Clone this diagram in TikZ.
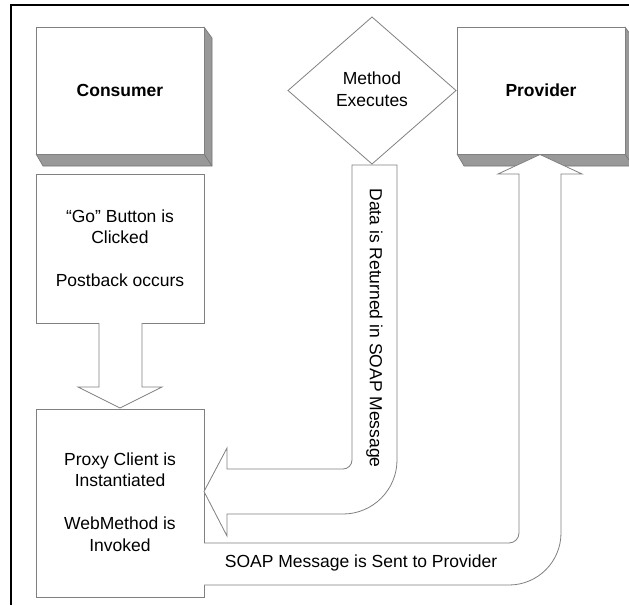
\documentclass[tikz,border=0pt]{standalone}
\usepackage{fontspec}
\setmainfont{Liberation Sans}
\begin{document}
\begin{tikzpicture}[x=1pt,y=-1pt,
  edge/.style={draw=black!50,line width=0.8pt},
  shade3d/.style={fill=black!40,draw=black!55,line width=0.6pt,line join=round},
  blockarrow/.style={fill=white,draw=black!50,line width=0.8pt,line join=miter},
  txt/.style={font=\fontsize{17.5}{21.5}\selectfont,align=center,inner sep=0pt},
  btxt/.style={font=\fontsize{17.5}{21.5}\selectfont\bfseries,align=center,inner sep=0pt}]
\useasboundingbox (0,0) rectangle (629,605);
\fill[white] (0,0) rectangle (629,605);
% frame
\draw[line width=2.6pt] (11,605) -- (11,5) -- (629,5);

% Consumer 3D box
\fill[shade3d] (204,27) -- (212,38) -- (212,166) -- (43,166) -- (36,154) -- (204,154) -- cycle;
\draw[shade3d,fill=none] (204,154) -- (212,166);
\draw[edge,fill=white] (36,27) rectangle (204,154);
\node[btxt] (consumer) at (120,90) {Consumer};

% Provider 3D box
\fill[shade3d] (625,27) -- (633,38) -- (633,166) -- (464,166) -- (457,154) -- (625,154) -- cycle;
\draw[shade3d,fill=none] (625,154) -- (633,166);
\draw[edge,fill=white] (457,27) rectangle (625,154);
\node[btxt] (provider) at (541,90) {Provider};

% Diamond
\draw[edge,fill=white] (372,17) -- (456,90.5) -- (372,164) -- (288,90.5) -- cycle;
\node[txt] (method) at (372,89) {Method\\Executes};

% Go box
\draw[edge,fill=white] (36,174) rectangle (204,323);
\node[txt] (go) at (120,248) {“Go” Button is\\Clicked\\[21.5pt]Postback occurs};

% Proxy box
\draw[edge,fill=white] (36,409) rectangle (204,597);
\node[txt] (proxy) at (120,502) {Proxy Client is\\Instantiated\\[21.5pt]WebMethod is\\Invoked};

% Down arrow Go -> Proxy
\draw[blockarrow] (99,323) -- (99,387) -- (78,387) -- (120,408) -- (162,387) -- (142,387) -- (142,323);

% Data returned arrow
\draw[blockarrow] (352,165) -- (352,460) arc[start angle=0,end angle=90,radius=9]
  -- (227,469) -- (227,448) -- (204,491.5) -- (227,536) -- (227,514)
  -- (343,514) arc[start angle=90,end angle=0,radius=54] -- (397,165) -- cycle;
\node[txt,rotate=-90] (data) at (374.5,328) {Data is Returned in SOAP Message};

% SOAP sent arrow
\draw[blockarrow] (204,543) -- (509,543) arc[start angle=90,end angle=0,radius=10]
  -- (519,174) -- (498,174) -- (540,154.5) -- (582,174) -- (561,174)
  -- (561,533) arc[start angle=0,end angle=90,radius=52] -- (204,585);
\node[txt] (sent) at (361,563) {SOAP Message is Sent to Provider};
\end{tikzpicture}
\end{document}
